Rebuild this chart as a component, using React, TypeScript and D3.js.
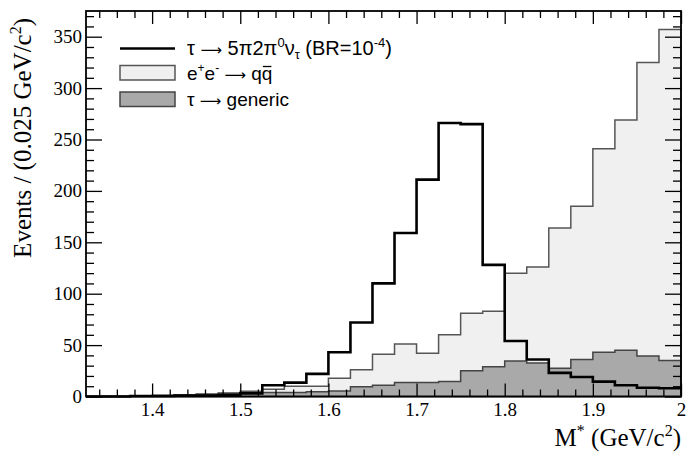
import React, { useEffect, useRef } from 'react'
import * as d3 from 'd3'

// bins of 0.025 GeV/c^2 starting at 1.325
const binStart = 1.325
const binWidth = 0.025

const signal = [0, 0, 0.5, 0.5, 1, 1, 1.5, 3,
  11, 13.5, 22, 43, 72, 110, 159, 211, 266, 265, 128,
  54, 36, 23, 19, 14.5, 11, 8.5, 8]
const generic = [0, 0, 0, 1, 1.5, 2, 3, 3.5,
  4, 4, 4.7, 5.3, 9.5, 11, 13.5, 13.5, 14.5, 25, 29,
  34.5, 32.5, 27.5, 36, 43, 45, 39.5, 35]
const qqbar = [0, 0, 0, 0, 0, 0.5, 0.5, 1.5,
  3, 6, 5.3, 12.4, 16.5, 30, 37.5, 28.5, 45.5, 56, 54,
  85.5, 93.5, 136.5, 149, 198, 224, 285.5, 322]

const xTicks = [1.4, 1.5, 1.6, 1.7, 1.8, 1.9, 2]
const yTicks = [0, 50, 100, 150, 200, 250, 300, 350]

const width = 687
const height = 453
const margin = { top: 11, right: 6, bottom: 56.5, left: 86 }

const x = d3.scaleLinear().domain([1.325, 2.0]).range([margin.left, width - margin.right])
const y = d3.scaleLinear().domain([0, 375]).range([height - margin.bottom, margin.top])

interface Bin { e: number; v: number }

const toBins = (vals: number[]): Bin[] => {
  const b = vals.map((v, i) => ({ e: binStart + i * binWidth, v }))
  b.push({ e: binStart + vals.length * binWidth, v: vals[vals.length - 1] })
  return b
}

const area = d3.area<Bin>()
  .curve(d3.curveStepAfter)
  .x(d => x(d.e))
  .y0(y(0))
  .y1(d => y(d.v))

const line = d3.line<Bin>()
  .curve(d3.curveStepAfter)
  .x(d => x(d.e))
  .y(d => y(d.v))

const serif = '"Liberation Serif", "DejaVu Serif", serif'
const sans = '"Liberation Sans", Arial, sans-serif'
const arrowFont = '"DejaVu Sans", sans-serif'

export default function App() {
  const ref = useRef<SVGSVGElement>(null)
  const qqRef = useRef<SVGTextElement>(null)

  useEffect(() => {
    const svg = d3.select(ref.current)
    svg.selectAll('.plot').remove()
    svg.selectAll('.bar').remove()
    const g = svg.insert('g', ':first-child').attr('class', 'plot')

    const total = qqbar.map((v, i) => v + generic[i])

    g.append('path')
      .attr('d', area(toBins(total)))
      .attr('fill', '#f0f0f0')
      .attr('stroke', '#555')
      .attr('stroke-width', 1.5)

    g.append('path')
      .attr('d', area(toBins(generic)))
      .attr('fill', '#a9a9a9')
      .attr('stroke', '#444')
      .attr('stroke-width', 1.5)

    g.append('path')
      .attr('d', line(toBins(signal)))
      .attr('fill', 'none')
      .attr('stroke', '#000')
      .attr('stroke-width', 2.6)

    const xMinor = d3.range(67, 101).filter(i => i % 5 !== 0).map(i => i * 0.02)
    const yMinor = d3.range(0, 376, 10).filter(v => v % 50 !== 0)

    const clean = (sel: any) => sel.call((s: any) => s.select('.domain').remove())

    // bottom
    g.append('g')
      .attr('transform', `translate(0,${y(0)})`)
      .call(d3.axisBottom(x).tickValues(xTicks).tickSize(-13).tickPadding(6).tickFormat(d3.format('')))
      .call(clean)
      .call((s: any) => s.selectAll('text').attr('font-family', serif).attr('font-size', 19).attr('fill', '#000'))
    g.append('g')
      .attr('transform', `translate(0,${y(0)})`)
      .call(d3.axisBottom(x).tickValues(xMinor).tickSize(-7).tickFormat(() => ''))
      .call(clean)
    // top
    g.append('g')
      .attr('transform', `translate(0,${margin.top})`)
      .call(d3.axisTop(x).tickValues(xTicks).tickSize(-13).tickFormat(() => ''))
      .call(clean)
    g.append('g')
      .attr('transform', `translate(0,${margin.top})`)
      .call(d3.axisTop(x).tickValues(xMinor).tickSize(-7).tickFormat(() => ''))
      .call(clean)
    // left
    g.append('g')
      .attr('transform', `translate(${margin.left},0)`)
      .call(d3.axisLeft(y).tickValues(yTicks).tickSize(-16).tickPadding(4))
      .call(clean)
      .call((s: any) => s.selectAll('text').attr('font-family', serif).attr('font-size', 19).attr('fill', '#000'))
    g.append('g')
      .attr('transform', `translate(${margin.left},0)`)
      .call(d3.axisLeft(y).tickValues(yMinor).tickSize(-8).tickFormat(() => ''))
      .call(clean)
    // right
    g.append('g')
      .attr('transform', `translate(${width - margin.right},0)`)
      .call(d3.axisRight(y).tickValues(yTicks).tickSize(-16).tickFormat(() => ''))
      .call(clean)
    g.append('g')
      .attr('transform', `translate(${width - margin.right},0)`)
      .call(d3.axisRight(y).tickValues(yMinor).tickSize(-8).tickFormat(() => ''))
      .call(clean)

    g.selectAll('.tick line').attr('stroke', '#000').attr('stroke-width', 1.3)

    g.append('rect')
      .attr('x', margin.left)
      .attr('y', margin.top)
      .attr('width', width - margin.right - margin.left)
      .attr('height', y(0) - margin.top)
      .attr('fill', 'none')
      .attr('stroke', '#000')
      .attr('stroke-width', 1.8)

    // overline over the anti-quark
    const t = qqRef.current
    if (t) {
      const n = t.getNumberOfChars()
      const ext = t.getExtentOfChar(n - 1)
      svg.append('line').attr('class', 'bar')
        .attr('x1', ext.x + 1).attr('x2', ext.x + ext.width - 1)
        .attr('y1', ext.y + 4).attr('y2', ext.y + 4)
        .attr('stroke', '#000').attr('stroke-width', 1.3)
    }
  }, [])

  return (
    <svg ref={ref} width={width} height={height}
      style={{ position: 'absolute', left: 0, top: 0, background: '#fff' }}>
      {/* legend */}
      <g fontFamily={sans} fontSize={19} fill="#000">
        <line x1={120} x2={175} y1={48.5} y2={48.5} stroke="#000" strokeWidth={2.6} />
        <text x={187} y={55} fontSize={20}>
          τ <tspan fontFamily={arrowFont} fontSize={15}>⟶</tspan> 5π2π<tspan dy={-8} fontSize={13}>0</tspan>
          <tspan dy={8}>ν</tspan><tspan dy={4} fontSize={13}>τ</tspan>
          <tspan dy={-4}> (BR=10</tspan><tspan dy={-8} fontSize={13}>-4</tspan><tspan dy={8}>)</tspan>
        </text>
        <rect x={120} y={65.5} width={55} height={14.5} fill="#f0f0f0" stroke="#555" strokeWidth={1.5} />
        <text ref={qqRef} x={187} y={79.5}>
          e<tspan dy={-8} fontSize={12}>+</tspan><tspan dy={8}>e</tspan><tspan dy={-8} fontSize={12}>-</tspan>
          <tspan dy={8}> </tspan><tspan fontFamily={arrowFont} fontSize={15}>⟶</tspan><tspan> qq</tspan>
        </text>
        <rect x={120} y={92} width={55} height={14.5} fill="#a9a9a9" stroke="#444" strokeWidth={1.5} />
        <text x={187} y={106}>τ <tspan fontFamily={arrowFont} fontSize={15}>⟶</tspan> generic</text>
      </g>
      {/* axis titles */}
      <text transform="translate(31,18) rotate(-90)" textAnchor="end"
        fontFamily={serif} fontSize={25} fill="#000">
        Events / (0.025 GeV/c<tspan dy={-10} fontSize={16}>2</tspan><tspan dy={10}>)</tspan>
      </text>
      <text x={681} y={446} textAnchor="end" fontFamily={serif} fontSize={25} fill="#000">
        M<tspan dy={-10} fontSize={16}>*</tspan><tspan dy={10}> (GeV/c</tspan><tspan dy={-10} fontSize={16}>2</tspan><tspan dy={10}>)</tspan>
      </text>
    </svg>
  )
}
